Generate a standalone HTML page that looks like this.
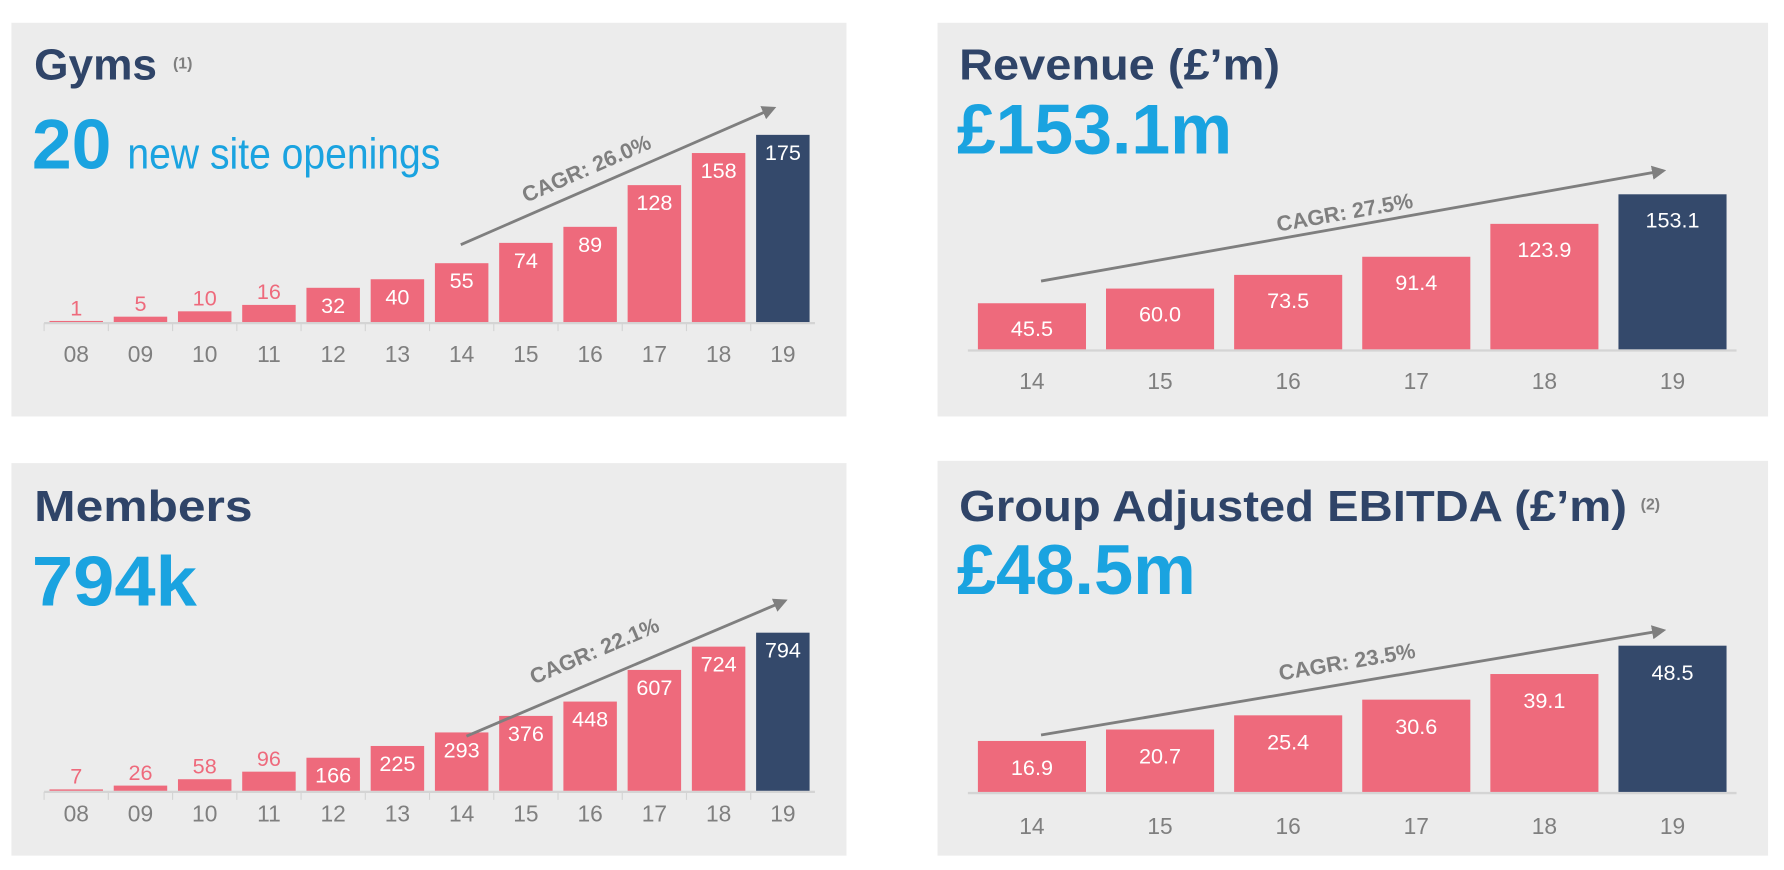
<!DOCTYPE html>
<html><head><meta charset="utf-8"><style>
html,body{margin:0;padding:0;background:#fff;}
svg{display:block;}
text{font-family:"Liberation Sans",Arial,sans-serif;}
</style></head><body>
<svg id="chart" width="1784" height="870" viewBox="0 0 1568 764.6" xmlns="http://www.w3.org/2000/svg">
<defs><marker id="ah" viewBox="0 0 10 10" refX="8" refY="5" markerWidth="5" markerHeight="5" orient="auto"><path d="M0,0L10,5L0,10z" fill="#7f7f7f"/></marker></defs>
</svg>
<script>
const gymYears=["08","09","10","11","12","13","14","15","16","17","18","19"];
const gymValues=[1,5,10,16,32,40,55,74,89,128,158,175];
const gymLabels=["1","5","10","16","32","40","55","74","89","128","158","175"];
const memberYears=["08","09","10","11","12","13","14","15","16","17","18","19"];
const memberValues=[7,26,58,96,166,225,293,376,448,607,724,794];
const memberLabels=["7","26","58","96","166","225","293","376","448","607","724","794"];
const revYears=["14","15","16","17","18","19"];
const revValues=[45.5,60.0,73.5,91.4,123.9,153.1];
const revLabels=["45.5","60.0","73.5","91.4","123.9","153.1"];
const ebitdaYears=["14","15","16","17","18","19"];
const ebitdaValues=[16.9,20.7,25.4,30.6,39.1,48.5];
const ebitdaLabels=["16.9","20.7","25.4","30.6","39.1","48.5"];

const svg=document.getElementById('chart');
const NS='http://www.w3.org/2000/svg';
function el(tag,attrs,parent,txt){const e=document.createElementNS(NS,tag);for(const k in attrs)e.setAttribute(k,attrs[k]);if(txt!==undefined)e.textContent=txt;(parent||svg).appendChild(e);return e;}

function panel(cfg){
  const g=el('g',{});
  
  
  const bg=el('rect',{x:cfg.x0,y:cfg.y0,width:cfg.w,height:cfg.h,fill:'#ececec'},g);
  
  
  const t=el('text',{x:cfg.tx,y:cfg.ty,'font-size':38,'font-weight':'bold',fill:'#2f4468',textLength:cfg.tw,lengthAdjust:'spacingAndGlyphs'},g,cfg.title);
  
  
  if(cfg.note){const n=el('text',{x:cfg.nx,y:cfg.ty-10,'font-size':14,'font-weight':'bold',fill:'#7f7f7f'},g,cfg.note);
    
    }
  const big=el('text',{x:cfg.tx-2,y:cfg.by,'font-size':62,'font-weight':'bold',fill:'#1aa3e0',textLength:cfg.bw2,lengthAdjust:'spacingAndGlyphs'},g,cfg.big);
  
  
  if(cfg.sub){const s=el('text',{x:cfg.sx,y:cfg.by,'font-size':38,fill:'#1aa3e0',textLength:275,lengthAdjust:'spacingAndGlyphs'},g,cfg.sub);
    
    }
  const n=cfg.values.length;
  const xs=i=>cfg.c0+i*cfg.step;
  const ys=v=>cfg.base-v*cfg.scale;
  const ax=el('line',{x1:xs(0)-cfg.step/2,x2:xs(n-1)+cfg.step/2,y1:cfg.base+1,y2:cfg.base+1,stroke:'#d4d4d4','stroke-width':2},g);
  
  
  for(let i=0;i<n;i++){
    if(cfg.ticks){const tk=el('line',{x1:xs(i)-cfg.step/2,x2:xs(i)-cfg.step/2,y1:cfg.base+1,y2:cfg.base+8,stroke:'#d4d4d4','stroke-width':1},g);
      
      }
    const v=cfg.values[i],top=ys(v),last=i===n-1;
    const b=el('rect',{x:xs(i)-cfg.bw/2,y:top,width:cfg.bw,height:cfg.base-top,fill:last?'#34496b':'#ee6a7c'},g);
    
    
    const inside=(cfg.base-top)>cfg.inMin;
    const lb=el('text',{x:xs(i),y:inside?top+cfg.lOff:top-5,'font-size':cfg.fs,'text-anchor':'middle',fill:inside?'#fff':'#ee6a7c'},g,cfg.labels[i]);
    
    
    const cl=el('text',{x:xs(i),y:cfg.cy,'font-size':20,'text-anchor':'middle',fill:'#7f7f7f'},g,cfg.cats[i]);
    
    
  }
  const a=cfg.arrow;
  const ar=el('line',{x1:a[0],y1:a[1],x2:a[2],y2:a[3],stroke:'#7f7f7f','stroke-width':2.5,'marker-end':'url(#ah)'},g);
  
  
  const ang=Math.atan2(a[3]-a[1],a[2]-a[0])*180/Math.PI;
  const ct=el('text',{x:cfg.cg[0],y:cfg.cg[1],'font-size':19,'font-weight':'bold',fill:'#7f7f7f','text-anchor':'middle',transform:`rotate(${ang} ${cfg.cg[0]} ${cfg.cg[1]})`},g,cfg.cagr);
  
  
}

panel({name:'gyms-panel',x0:10,y0:20,w:734,h:346,title:'Gyms',tw:108,note:'(1)',nx:152,tx:30,ty:70,big:'20',bw2:70,by:148,sub:'new site openings',sx:112,
  cats:gymYears,values:gymValues,labels:gymLabels,c0:67,step:56.46,bw:47,base:283,scale:0.94,inMin:25,lOff:22,fs:19,cy:318,ticks:true,
  arrow:[405,215,680,95],cg:[518,154],cagr:'CAGR: 26.0%'});
panel({name:'revenue-panel',x0:824,y0:20,w:730,h:346,title:'Revenue (£’m)',tw:282,tx:843,ty:70,big:'£153.1m',bw2:242,by:135,
  cats:revYears,values:revValues,labels:revLabels,c0:907,step:112.6,bw:95,base:307,scale:0.89,inMin:25,lOff:29,fs:19,cy:342,ticks:false,
  arrow:[915,247,1462,150],cg:[1183,193],cagr:'CAGR: 27.5%'});
panel({name:'members-panel',x0:10,y0:407,w:734,h:345,title:'Members',tw:192,tx:30,ty:458,big:'794k',bw2:145,by:532,
  cats:memberYears,values:memberValues,labels:memberLabels,c0:67,step:56.46,bw:47,base:695,scale:0.175,inMin:25,lOff:22,fs:19,cy:722,ticks:true,
  arrow:[410,647,690,528],cg:[525,578],cagr:'CAGR: 22.1%'});
panel({name:'ebitda-panel',x0:824,y0:405,w:730,h:347,title:'Group Adjusted EBITDA (£’m)',tw:587,note:'(2)',nx:1442,tx:843,ty:458,big:'£48.5m',bw2:210,by:522,
  cats:ebitdaYears,values:ebitdaValues,labels:ebitdaLabels,c0:907,step:112.6,bw:95,base:696,scale:2.65,inMin:25,lOff:30,fs:19,cy:733,ticks:false,
  arrow:[915,646,1462,554],cg:[1185,588],cagr:'CAGR: 23.5%'});
</script>
</body></html>
